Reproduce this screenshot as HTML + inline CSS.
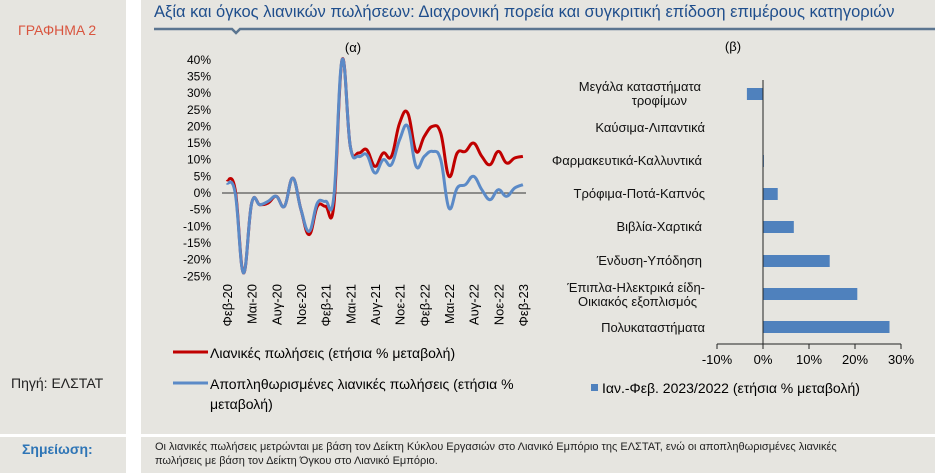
<!DOCTYPE html>
<html><head><meta charset="utf-8"><style>
body{margin:0;width:935px;height:473px;background:#fff;position:relative;overflow:hidden;font-family:"Liberation Sans",sans-serif}
.p{position:absolute;background:#e6e5e0}
</style></head><body>
<div class="p" style="left:0;top:0;width:126px;height:434px"></div>
<div class="p" style="left:141px;top:0;width:794px;height:434px"></div>
<div class="p" style="left:0;top:437px;width:126px;height:36px"></div>
<div class="p" style="left:141px;top:437px;width:794px;height:36px"></div>
<div style="position:absolute;left:18px;top:22px;color:#d9553f;font-size:14px">ΓΡΑΦΗΜΑ 2</div>
<div style="position:absolute;left:11px;top:375px;color:#222;font-size:14px">Πηγή: ΕΛΣΤΑΤ</div>
<div style="position:absolute;left:22px;top:441px;color:#2e75b6;font-size:14px;font-weight:bold">Σημείωση:</div>
<div style="position:absolute;left:155px;top:440px;color:#222;font-size:11px;line-height:14px;width:705px">Οι λιανικές πωλήσεις μετρώνται με βάση τον Δείκτη Κύκλου Εργασιών στο Λιανικό Εμπόριο της ΕΛΣΤΑΤ, ενώ οι αποπληθωρισμένες λιανικές πωλήσεις με βάση τον Δείκτη Όγκου στο Λιανικό Εμπόριο.</div>
<div style="position:absolute;left:154px;top:3px;color:#1f4e8c;font-size:16.5px;white-space:nowrap">Αξία και όγκος λιανικών πωλήσεων: Διαχρονική πορεία και συγκριτική επίδοση επιμέρους κατηγοριών</div>
<svg id="s" width="935" height="473" style="position:absolute;left:0;top:0" font-family="Liberation Sans, sans-serif">
<polyline points="154,29 232,29 236,33 240,29 935,29" fill="none" stroke="#5b7590" stroke-width="2.5"/>
<text x="353" y="52" font-size="13" text-anchor="middle">(α)</text>
<text x="733" y="51" font-size="13" text-anchor="middle">(β)</text>
<line x1="222" y1="193" x2="526" y2="193" stroke="#333" stroke-width="1"/>
<g id="yt" font-size="12" text-anchor="end"></g>
<g id="xt" font-size="13"></g>
<path id="r" fill="none" stroke="#c00000" stroke-width="3" stroke-linejoin="round"/>
<path id="b" fill="none" stroke="#5b8ac7" stroke-width="3" stroke-linejoin="round"/>
<line x1="173" y1="352" x2="208" y2="352" stroke="#c00000" stroke-width="3"/>
<text x="210" y="358" font-size="14">Λιανικές πωλήσεις (ετήσια % μεταβολή)</text>
<line x1="173" y1="383" x2="208" y2="383" stroke="#5b8ac7" stroke-width="3"/>
<text x="210" y="389" font-size="14">Αποπληθωρισμένες λιανικές πωλήσεις (ετήσια %</text>
<text x="210" y="409" font-size="14">μεταβολή)</text>
<g id="bars"></g>
<line x1="763" y1="80" x2="763" y2="344" stroke="#222"/>
<line x1="717" y1="344" x2="901" y2="344" stroke="#222"/>
<g id="bx" font-size="13" text-anchor="middle"></g>
<g font-size="13" text-anchor="end" fill="#111">
<text x="701" y="91">Μεγάλα καταστήματα</text><text x="687" y="105">τροφίμων</text>
<text x="705" y="132">Καύσιμα-Λιπαντικά</text>
<text x="702" y="165">Φαρμακευτικά-Καλλυντικά</text>
<text x="705" y="198">Τρόφιμα-Ποτά-Καπνός</text>
<text x="702" y="231">Βιβλία-Χαρτικά</text>
<text x="702" y="265">Ένδυση-Υπόδηση</text>
<text x="705" y="292">Έπιπλα-Ηλεκτρικά είδη-</text><text x="697" y="306">Οικιακός εξοπλισμός</text>
<text x="705" y="332">Πολυκαταστήματα</text>
</g>
<rect x="591" y="384" width="7" height="7" fill="#4f81bd"/>
<text x="602" y="393" font-size="14">Ιαν.-Φεβ. 2023/2022 (ετήσια % μεταβολή)</text>
</svg>
<script>
var NS="http://www.w3.org/2000/svg";
function el(p,t,a,txt){var e=document.createElementNS(NS,t);for(var k in a)e.setAttribute(k,a[k]);if(txt!=null)e.textContent=txt;document.getElementById(p).appendChild(e);return e;}
for(var v=40;v>=-25;v-=5){el("yt","text",{x:211,y:193-v*3.33+4},v+"%");}
var labs=["Φεβ-20","Μαι-20","Αυγ-20","Νοε-20","Φεβ-21","Μαι-21","Αυγ-21","Νοε-21","Φεβ-22","Μαι-22","Αυγ-22","Νοε-22","Φεβ-23"];
labs.forEach(function(l,i){var x=227+i*3*8.22+5;el("xt","text",{x:0,y:0,"text-anchor":"end",transform:"translate("+x+",284) rotate(-90)"},l);});
var R=[4,1,-24,-3,-3.5,-3,-1,-4,4.5,-5,-12.5,-4,-4,-3.5,40,14,12,13,8,12,11,21,24,12.5,17,20,18,5,12,12.5,15,11,8.5,12.5,9,10.5,11];
var B=[3,0,-24,-3,-3.5,-2.5,-1,-4,4.5,-5,-11.5,-3,-2.5,-1,40,14,11,11.5,6,10,8.5,16,20,8,11,12.5,10,-4.5,1.5,2.5,5,1,-2,1,-1,1.5,2.5];
function path(a){var P=a.map(function(v,i){return [227+i*8.22,193-v*3.33]});var d="M"+P[0][0]+","+P[0][1];
for(var i=0;i<P.length-1;i++){var p0=P[Math.max(i-1,0)],p1=P[i],p2=P[i+1],p3=P[Math.min(i+2,P.length-1)];var t=0.2;
d+=" C"+(p1[0]+(p2[0]-p0[0])*t).toFixed(1)+","+(p1[1]+(p2[1]-p0[1])*t).toFixed(1)+" "+(p2[0]-(p3[0]-p1[0])*t).toFixed(1)+","+(p2[1]-(p3[1]-p1[1])*t).toFixed(1)+" "+p2[0].toFixed(1)+","+p2[1].toFixed(1);}
return d;}
document.getElementById("r").setAttribute("d",path(R));
document.getElementById("b").setAttribute("d",path(B));
var bv=[-3.5,0,0.2,3.2,6.7,14.5,20.5,27.5],by=[94,128,161,194,227,261,294,327];
bv.forEach(function(v,i){var w=v*4.6;el("bars","rect",{x:w<0?763+w:763,y:by[i]-6,width:Math.abs(w),height:12,fill:"#4f81bd"});});
[-10,0,10,20,30].forEach(function(v){var x=763+v*4.6;el("bars","line",{x1:x,y1:344,x2:x,y2:349,stroke:"#222"});el("bx","text",{x:x,y:364},v+"%");});
</script>
</body></html>
